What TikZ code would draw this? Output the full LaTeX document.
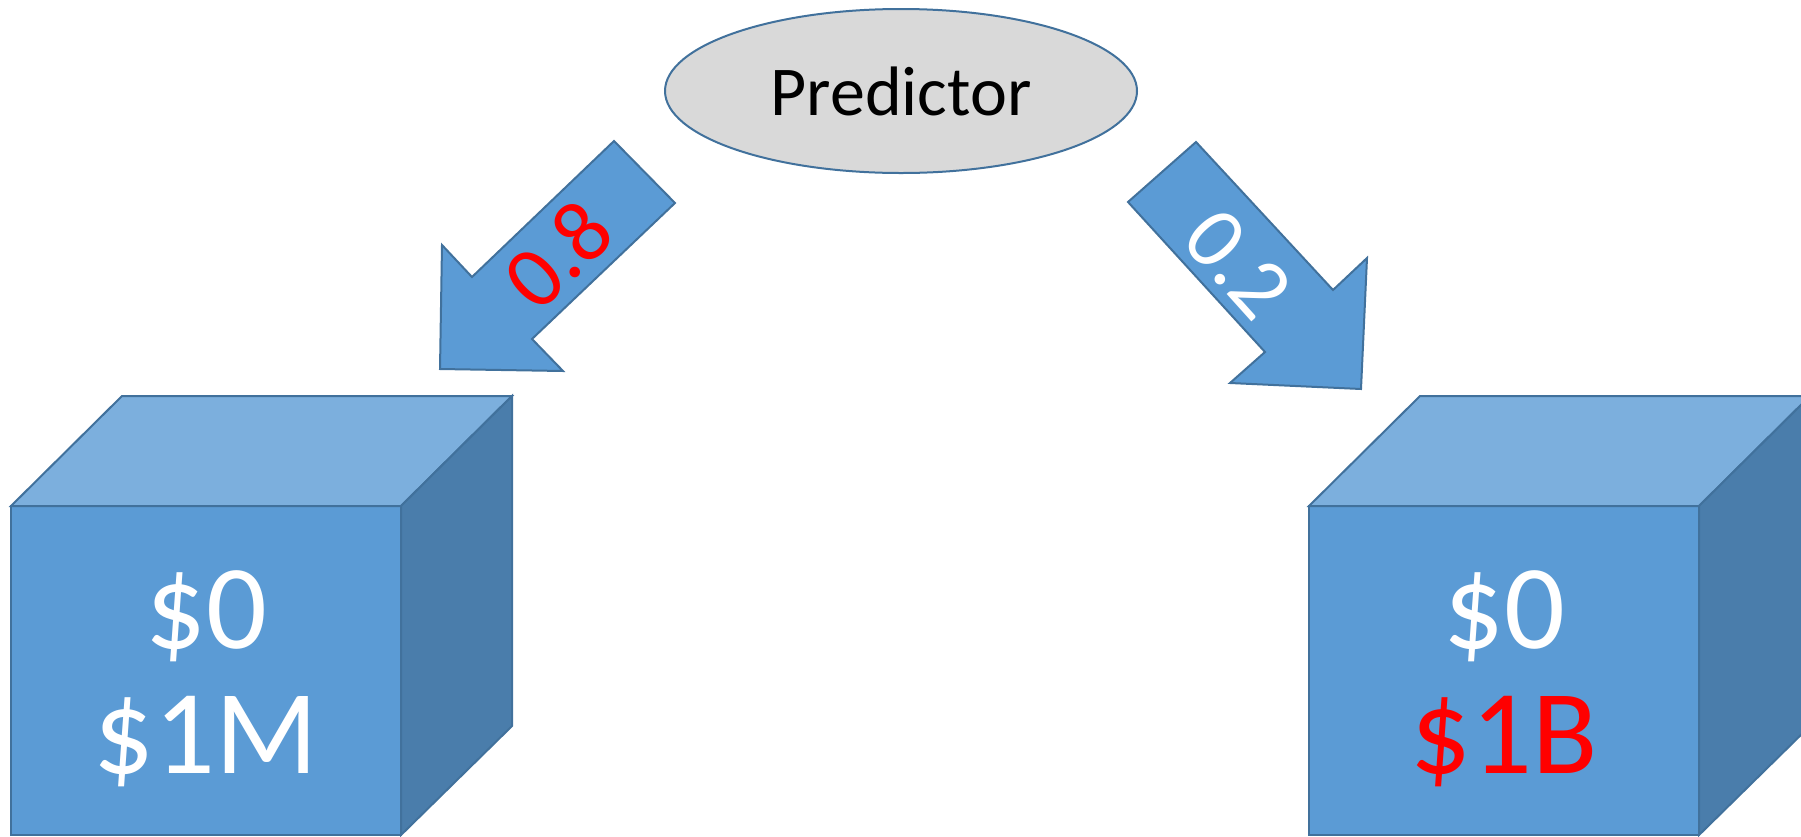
\documentclass[tikz,border=0pt]{standalone}
\usepackage{fontspec}
\setmainfont{Carlito}
\usetikzlibrary{shapes.geometric}
\definecolor{blueface}{HTML}{5B9BD5}
\definecolor{bluetop}{HTML}{7CAFDD}
\definecolor{blueside}{HTML}{4A7DAB}
\definecolor{edgeblue}{HTML}{41719C}
\definecolor{predgray}{HTML}{D9D9D9}
\begin{document}
\begin{tikzpicture}[x=1pt,y=-1pt,line join=miter,
  facestyle/.style={draw=edgeblue,line width=2pt},
  frontface/.style={facestyle,fill=blueface,minimum width=390pt,minimum height=329pt,inner sep=0pt,outer sep=0pt},
  bigtext/.style={font=\fontsize{120}{125}\selectfont,anchor=base,inner sep=0pt},
  probtext/.style={font=\fontsize{88}{96}\selectfont,inner sep=0pt},
  blockarrow/.style={draw=edgeblue,line width=2pt,fill=blueface},
  predstyle/.style={ellipse,draw=edgeblue,line width=2pt,fill=predgray,minimum width=472pt,minimum height=164pt,inner sep=0pt,font=\fontsize{70}{80}\selectfont}]
\clip (0,0) rectangle (1801,836);
% Predictor
\node[predstyle] (pred) at (901,91) {Predictor};
% left cube
\node[frontface] (lfront) at (206,670.5) {};
\draw[facestyle,fill=bluetop] (lfront.north west) -- ++(111,-110) -- ++(390,0) -- (lfront.north east) -- cycle;
\draw[facestyle,fill=blueside] (lfront.north east) -- ++(111,-110) -- ++(0,330) -- (lfront.south east) -- cycle;
\node[bigtext,text=white] (lzero) at (206,648) {\$0};
\node[bigtext,text=white] (lmil) at (206,773) {\$1M};
% right cube
\node[frontface] (rfront) at (1504,670.5) {};
\draw[facestyle,fill=bluetop] (rfront.north west) -- ++(111,-110) -- ++(390,0) -- (rfront.north east) -- cycle;
\draw[facestyle,fill=blueside] (rfront.north east) -- ++(111,-110) -- ++(0,330) -- (rfront.south east) -- cycle;
\node[bigtext,text=white] (rzero) at (1504,648) {\$0};
\node[bigtext,text=red] (rbil) at (1504,773) {\$1B};
% left block arrow
\coordinate (la1) at (614,141);
\coordinate (la2) at (675,203);
\coordinate (la3) at (532,339);
\coordinate (la4) at (563,371);
\coordinate (la5) at (440,369);
\coordinate (la6) at (442,245);
\coordinate (la7) at (472,277);
\draw[blockarrow] (la1) -- (la2) -- (la3) -- (la4) -- (la5) -- (la6) -- (la7) -- cycle;
\node[probtext,text=red,rotate=44] (p08) at (557.5,254.5) {0.8};
% right block arrow
\coordinate (ra1) at (1196,142);
\coordinate (ra2) at (1333,290);
\coordinate (ra3) at (1367,258);
\coordinate (ra4) at (1361,389);
\coordinate (ra5) at (1230,383);
\coordinate (ra6) at (1265,352);
\coordinate (ra7) at (1128,202);
\draw[blockarrow] (ra1) -- (ra2) -- (ra3) -- (ra4) -- (ra5) -- (ra6) -- (ra7) -- cycle;
\node[probtext,text=white,rotate=-48] (p02) at (1238,264) {0.2};
\end{tikzpicture}
\end{document}
